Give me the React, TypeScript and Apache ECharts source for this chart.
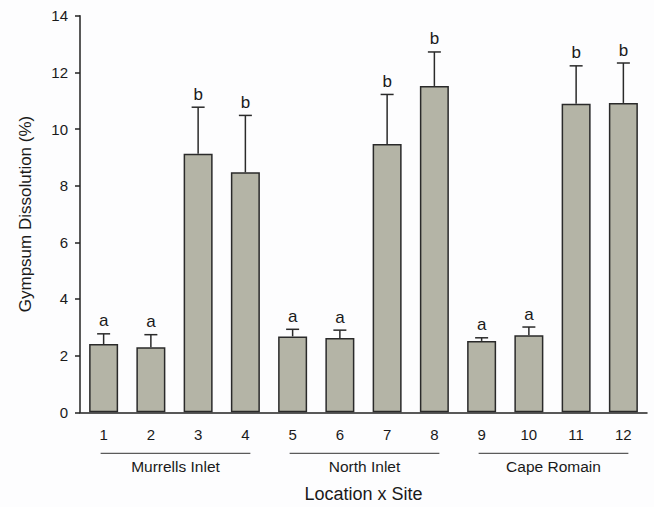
import React, { useEffect, useRef } from "react";
import * as echarts from "echarts";

const categories = ["1", "2", "3", "4", "5", "6", "7", "8", "9", "10", "11", "12"];
const means = [2.41, 2.3, 9.13, 8.47, 2.68, 2.62, 9.47, 11.52, 2.52, 2.72, 10.89, 10.92];
const upperErr = [2.77, 2.74, 10.77, 10.48, 2.93, 2.9, 11.22, 12.72, 2.63, 3.01, 12.23, 12.33];
const letters = ["a", "a", "b", "b", "a", "a", "b", "b", "a", "a", "b", "b"];
const groups = [
  { name: "Murrells Inlet", from: 0, to: 3 },
  { name: "North Inlet", from: 4, to: 7 },
  { name: "Cape Romain", from: 8, to: 11 },
];
const yTicks = { min: 0, max: 14, interval: 2 };

const FONT = "Liberation Sans, Arial, sans-serif";

export default function App() {
  const ref = useRef<HTMLDivElement>(null);
  useEffect(() => {
    if (!ref.current) return;
    const chart = echarts.init(ref.current, null, { renderer: "svg" });
    const errData = means.map((m, i) => [i, m, upperErr[i], letters[i]]);
    const groupData = groups.map((g) => [g.from, g.to, g.name]);
    chart.setOption({
      animation: false,
      backgroundColor: "#fdfdfe",
      grid: { left: 80, right: 7, top: 15.7, bottom: 94.7, containLabel: false, outerBoundsMode: "none" },
      xAxis: {
        type: "category",
        data: categories,
        name: "Location x Site",
        nameLocation: "middle",
        nameGap: 73,
        nameTextStyle: { fontFamily: FONT, fontSize: 18, color: "#1a1a1a" },
        axisLine: { lineStyle: { color: "#222", width: 1.5 } },
        axisTick: { alignWithLabel: true, length: 5, lineStyle: { color: "#222", width: 1.5 } },
        axisLabel: { fontFamily: FONT, fontSize: 15, color: "#1a1a1a", margin: 15 },
      },
      yAxis: {
        type: "value",
        min: yTicks.min,
        max: yTicks.max,
        interval: yTicks.interval,
        name: "Gympsum Dissolution (%)",
        nameLocation: "middle",
        nameGap: 46,
        nameRotate: 90,
        nameTextStyle: { fontFamily: FONT, fontSize: 17, color: "#1a1a1a" },
        axisLine: { show: true, lineStyle: { color: "#222", width: 1.5 } },
        axisTick: { show: true, length: 5, lineStyle: { color: "#222", width: 1.5 } },
        axisLabel: { fontFamily: FONT, fontSize: 15, color: "#1a1a1a", margin: 12 },
        splitLine: { show: false },
      },
      series: [
        {
          type: "bar",
          data: means,
          barWidth: 29,
          itemStyle: { color: "#b4b4a6", borderColor: "#2a2a2a", borderWidth: 1.5 },
          z: 2,
        },
        {
          type: "custom",
          data: errData,
          z: 3,
          renderItem: (params: any, api: any) => {
            const i = api.value(0);
            const top = api.coord([i, api.value(2)]);
            const base = api.coord([i, api.value(1)]);
            const x = top[0];
            const half = 6.5;
            return {
              type: "group",
              children: [
                {
                  type: "line",
                  shape: { x1: x, y1: base[1], x2: x, y2: top[1] },
                  style: { stroke: "#2a2a2a", lineWidth: 1.5 },
                },
                {
                  type: "line",
                  shape: { x1: x - half, y1: top[1], x2: x + half, y2: top[1] },
                  style: { stroke: "#2a2a2a", lineWidth: 1.5 },
                },
                {
                  type: "text",
                  x: x,
                  y: top[1] - 13,
                  style: {
                    text: letters[i],
                    fontFamily: FONT,
                    fontSize: 17,
                    fill: "#1a1a1a",
                    align: "center",
                    verticalAlign: "middle",
                  },
                },
              ],
            };
          },
        },
        {
          type: "custom",
          data: groupData,
          z: 3,
          clip: false,
          renderItem: (params: any, api: any) => {
            const a = api.coord([api.value(0), 0]);
            const b = api.coord([api.value(1), 0]);
            const y = a[1] + 41;
            return {
              type: "group",
              children: [
                {
                  type: "line",
                  shape: { x1: a[0] - 3, y1: y, x2: b[0] + 5, y2: y },
                  style: { stroke: "#333", lineWidth: 1 },
                },
                {
                  type: "text",
                  x: (a[0] + b[0]) / 2 + 1,
                  y: y + 13.5,
                  style: {
                    text: groups[params.dataIndex].name,
                    fontFamily: FONT,
                    fontSize: 15.5,
                    fill: "#1a1a1a",
                    align: "center",
                    verticalAlign: "middle",
                  },
                },
              ],
            };
          },
        },
      ],
    });
    return () => chart.dispose();
  }, []);
  return (
    <div
      ref={ref}
      style={{ position: "fixed", left: 0, top: 0, width: 654, height: 507 }}
    />
  );
}
